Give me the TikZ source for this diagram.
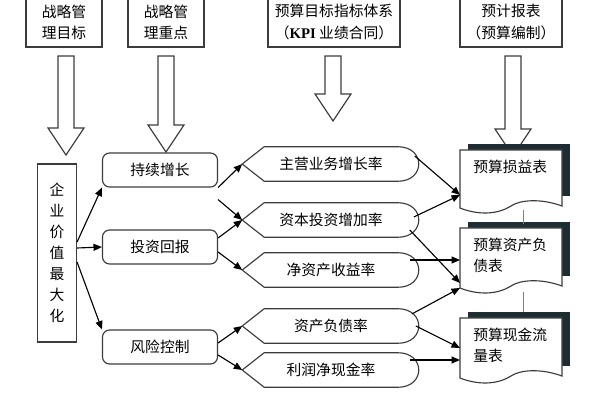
\documentclass[tikz,border=0pt]{standalone}
\usepackage{fontspec}
\setmainfont{Liberation Serif}
\newfontfamily\cjk{Noto Sans CJK SC}
\usetikzlibrary{calc,arrows.meta}
\definecolor{shadowgray}{RGB}{30,45,50}
\definecolor{linegray}{RGB}{60,60,60}
\tikzset{
	topbox/.style={draw=linegray,thick,align=center,inner sep=0pt},
	roundbox/.style={draw=linegray,thick,rounded corners=5pt,minimum width=115*0.025cm,minimum height=34*0.025cm,inner sep=0pt},
	dispbox/.style={minimum width=177*0.025cm,minimum height=34*0.025cm,inner sep=0pt},
	docbox/.style={minimum width=102*0.025cm,inner sep=0pt,align=left,text width=88*0.025cm},
	link/.style={-{Triangle[length=6pt,width=5pt]},thick,draw=black},
}
\newcommand{\dispshape}[1]{%
	\draw[linegray,thick] (#1.west) -- ($(#1.north west)+(22,0)$) -- ($(#1.north east)+(-22,0)$)
		.. controls ($(#1.north east)+(6,0)$) and ($(#1.south east)+(6,0)$) .. ($(#1.south east)+(-22,0)$)
		-- ($(#1.south west)+(22,0)$) -- cycle;}
\newcommand{\hollowarrow}[3]{%
	\draw[linegray,thick,fill=white] (#1-8,#2) -- (#1+8,#2) -- (#1+8,#3-27) -- (#1+18,#3-27) -- (#1,#3) -- (#1-18,#3-27) -- (#1-8,#3-27) -- cycle;}
\begin{document}
\begin{tikzpicture}[x=0.025cm,y=-0.025cm,font=\cjk\fontsize{10.5}{15}\selectfont]
	\useasboundingbox[fill=white] (0,0) rectangle (600,400);
	% top row
	\draw[topbox] (26,-5) rectangle (102,47);
	\node[align=center] (goal) at (64,22) {战略管\\理目标};
	\draw[topbox] (128,-5) rectangle (204,47);
	\node[align=center] (focus) at (166,22) {战略管\\理重点};
	\draw[topbox] (268,-5) rectangle (400,47);
	\node[align=center] (kpi) at (334,22) {预算目标指标体系\\（{\rmfamily\bfseries KPI} 业绩合同）};
	\draw[topbox] (460,-5) rectangle (562,47);
	\node[align=center] (plan) at (511,22) {预计报表\\（预算编制）};
	% hollow arrows
	\hollowarrow{66}{56}{155}
	\hollowarrow{166}{56}{152}
	\hollowarrow{333}{56}{121}
	\hollowarrow{513}{56}{156}
	% left column
	\node[topbox,minimum width=39*0.025cm,minimum height=178*0.025cm,text width=1.1em,align=center] (value) at (57,253) {企\\业\\价\\值\\最\\大\\化};
	\node[roundbox] (grow) at (160,170) {持续增长};
	\node[roundbox] (invest) at (160,247) {投资回报};
	\node[roundbox] (risk) at (160,347) {风险控制};
	% indicators
	\node[dispbox] (mainrate) at (331,164) {主营业务增长率};
	\node[dispbox] (caprate) at (331,220) {资本投资增加率};
	\node[dispbox] (roe) at (331,270) {净资产收益率};
	\node[dispbox] (debtrate) at (331,326) {资产负债率};
	\node[dispbox] (cashrate) at (331,370) {利润净现金率};
	\foreach \n in {mainrate,caprate,roe,debtrate,cashrate}{\dispshape{\n}}
	% documents
	\foreach \n/\y/\h/\txt in {pl/150/60/预算损益表,bs/228/62/预算资产负\\债表,cf/318/62/预算现金流\\量表}{
		\fill[shadowgray] (468,\y-6) rectangle (570,\y+\h-14);
		\draw[linegray,thick,fill=white] (460,\y) -- (562,\y) -- (562,\y+\h-4)
			.. controls (540,\y+\h-12) and (520,\y+\h-10) .. (511,\y+\h-4)
			.. controls (495,\y+\h+6) and (475,\y+\h+4) .. (460,\y+\h-2) -- cycle;
		\node[docbox,anchor=north west] (\n) at (466,\y+10) {\txt};
	}
	\draw[gray] (523,210) -- (523,224);
	\draw[gray] (523,292) -- (523,312);
	% links left
	\draw[link] (value.east |- 0,250) ++(0,-8) -- (grow.south west);
	\draw[link] (value.east |- 0,248) -- (invest.west);
	\draw[link] (value.east |- 0,262) -- (risk.north west);
	\draw[link] (grow.south east) -- (mainrate.west);
	\draw[link] ($(grow.south east)+(0,12)$) -- (caprate.west);
	\draw[link] ($(invest.east)+(0,-9)$) -- (caprate.west);
	\draw[link] ($(invest.east)+(0,5)$) -- (roe.west);
	\draw[link] ($(risk.east)+(0,-4)$) -- (debtrate.west);
	\draw[link] ($(risk.east)+(0,8)$) -- (cashrate.west);
	% links right
	\coordinate (plin) at (460,195);
	\draw[link] ($(mainrate.east)+(-5,-8)$) -- (plin);
	\draw[link] ($(caprate.east)+(-6,-3)$) -- (plin);
	\draw[link] ($(caprate.east)+(-10,10)$) -- (460,283);
	\draw[link] ($(roe.east)+(-10,-10)$) -- (460,260);
	\draw[link] ($(debtrate.east)+(-8,-12)$) -- (460,288);
	\draw[link] ($(debtrate.east)+(-4,0)$) -- (460,348);
	\draw[link] ($(cashrate.east)+(-10,-10)$) -- (460,360);
\end{tikzpicture}
\end{document}
